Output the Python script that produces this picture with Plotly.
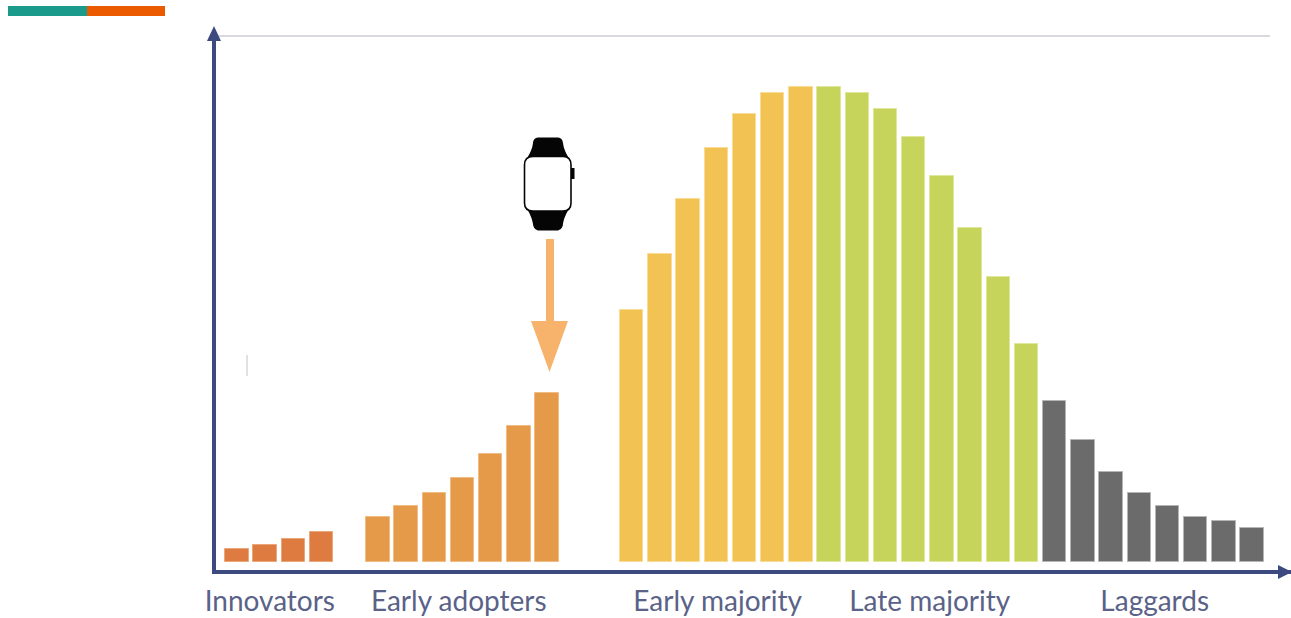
import plotly.graph_objects as go

# Adoption curve: five groups, bar heights
group_names = ["Innovators", "Early adopters", "Early majority", "Late majority", "Laggards"]
innovators = [13, 17, 23, 30]
early_adopters = [45, 56, 69, 84, 108, 136, 169]
early_majority = [252, 308, 363, 414, 448, 469, 475]
late_majority = [475, 469, 453, 425, 386, 334, 285, 218]
laggards = [161, 122, 90, 69, 56, 45, 41, 34]
groups = [innovators, early_adopters, early_majority, late_majority, laggards]
gaps_before = [0, 1, 2, 0, 0]
label_slots = [1.17, 7.87, 17.05, 24.57, 32.55]
group_colors = ["#DD7B40", "#E59A4A", "#F2C352", "#C7D45C", "#6B6B6B"]
edge_colors = ["#EBA679", "#F0BC84", "#F8DC96", "#DFE79B", "#B5B5B5"]

W, H = 1291, 618
L, R, T, B = 216, 1291, 36, 570
SLOT0, SLOT = 236.8, 28.2
NAVY = "#3C4A80"


def px(x):
    return (x - L) / (R - L)


def py(y):
    return (B - y) / (B - T)


def path(points, close=True):
    s = "M " + " L ".join(f"{px(x):.5f},{py(y):.5f}" for x, y in points)
    return s + (" Z" if close else "")


def smooth(points):
    # M start, then straight or cubic segments
    (x0, y0), rest = points[0], points[1:]
    s = f"M {px(x0):.5f},{py(y0):.5f}"
    for seg in rest:
        if len(seg) == 2:
            s += f" L {px(seg[0]):.5f},{py(seg[1]):.5f}"
        else:
            s += (f" C {px(seg[0]):.5f},{py(seg[1]):.5f} {px(seg[2]):.5f},{py(seg[3]):.5f}"
                  f" {px(seg[4]):.5f},{py(seg[5]):.5f}")
    return s + " Z"


fig = go.Figure()
slot = 0
for name, vals, gap, color, edge in zip(group_names, groups, gaps_before, group_colors, edge_colors):
    slot += gap
    xs = list(range(slot, slot + len(vals)))
    slot += len(vals)
    fig.add_bar(x=xs, y=vals, name=name, width=0.83, showlegend=False,
                marker=dict(color=color, line=dict(color=edge, width=1)))

shapes = []
paper = dict(xref="paper", yref="paper", layer="above")


def poly(points, fill):
    shapes.append(dict(type="path", path=path(points), fillcolor=fill, line=dict(width=0), **paper))


def line(x0, y0, x1, y1, color, width):
    shapes.append(dict(type="line", x0=px(x0), y0=py(y0), x1=px(x1), y1=py(y1),
                       line=dict(color=color, width=width), **paper))


# header strip
shapes.append(dict(type="rect", x0=px(8), x1=px(87), y0=py(16), y1=py(6), fillcolor="#1A9A8A", line=dict(width=0), **paper))
shapes.append(dict(type="rect", x0=px(87), x1=px(165), y0=py(16), y1=py(6), fillcolor="#EC5A00", line=dict(width=0), **paper))
# top rule
line(214, 36, 1270, 36, "#D9D9DE", 2)
# axis arrowheads
poly([(214, 26), (207, 41), (221, 41)], NAVY)
poly([(1292, 572), (1278, 565), (1278, 579)], NAVY)
# small stray tick
line(247, 355, 247, 376, "#C4C4C4", 1)
# orange arrow
poly([(546, 239), (554, 239), (554, 321), (568, 321), (549.5, 372), (531, 321), (546, 321)], "#F7B36C")
# watch straps
shapes.append(dict(type="path", fillcolor="#050505", line=dict(width=0), **paper, path=smooth([
    (526, 160), (530, 153, 532, 150, 533, 143), (533.5, 139, 535, 138, 538, 137.5), (558, 137.5),
    (561, 138, 562.5, 139, 563, 143), (564, 150, 566, 153, 570, 160)])))
shapes.append(dict(type="path", fillcolor="#050505", line=dict(width=0), **paper, path=smooth([
    (526, 207), (530, 214, 532, 218, 533, 224), (533.5, 228, 535, 229.5, 538, 230.5), (558, 230.5),
    (561, 229.5, 562.5, 228, 563, 224), (564, 218, 566, 214, 570, 207)])))
# watch crown
shapes.append(dict(type="rect", x0=px(571), x1=px(574.5), y0=py(179), y1=py(168), fillcolor="#050505", line=dict(width=0), **paper))
# watch body
shapes.append(dict(type="path", fillcolor="#FFFFFF", line=dict(color="#050505", width=1.6), **paper, path=smooth([
    (533, 156.5), (563, 156.5), (568.5, 156.5, 571, 159, 571, 165), (571, 203),
    (571, 208, 568.5, 211, 563, 211), (533, 211), (527.5, 211, 524.5, 208, 524.5, 203),
    (524.5, 165), (524.5, 159, 527.5, 156.5, 533, 156.5)])))

fig.update_layout(
    width=W, height=H, autosize=False,
    margin=dict(l=L, r=W - R, t=T, b=H - B, pad=0),
    paper_bgcolor="white", plot_bgcolor="white",
    bargap=0, barmode="overlay",
    font=dict(family="Lato", color="#5A6288", size=28),
    xaxis=dict(range=[(L - SLOT0) / SLOT, (R - SLOT0) / SLOT], showgrid=False, zeroline=False,
               showline=True, linecolor=NAVY, linewidth=4,
               tickmode="array", tickvals=label_slots, ticktext=group_names,
               ticks="outside", ticklen=3, tickcolor="rgba(0,0,0,0)",
               tickfont=dict(family="Lato", size=28, color="#5A6288")),
    yaxis=dict(range=[-8, 526], showgrid=False, zeroline=False, showline=True,
               linecolor=NAVY, linewidth=4, showticklabels=False, ticks=""),
    shapes=shapes,
)
fig.write_html("out.html", config=dict(displayModeBar=False),
               post_script="document.body.style.margin='0';document.body.style.overflow='hidden';")
